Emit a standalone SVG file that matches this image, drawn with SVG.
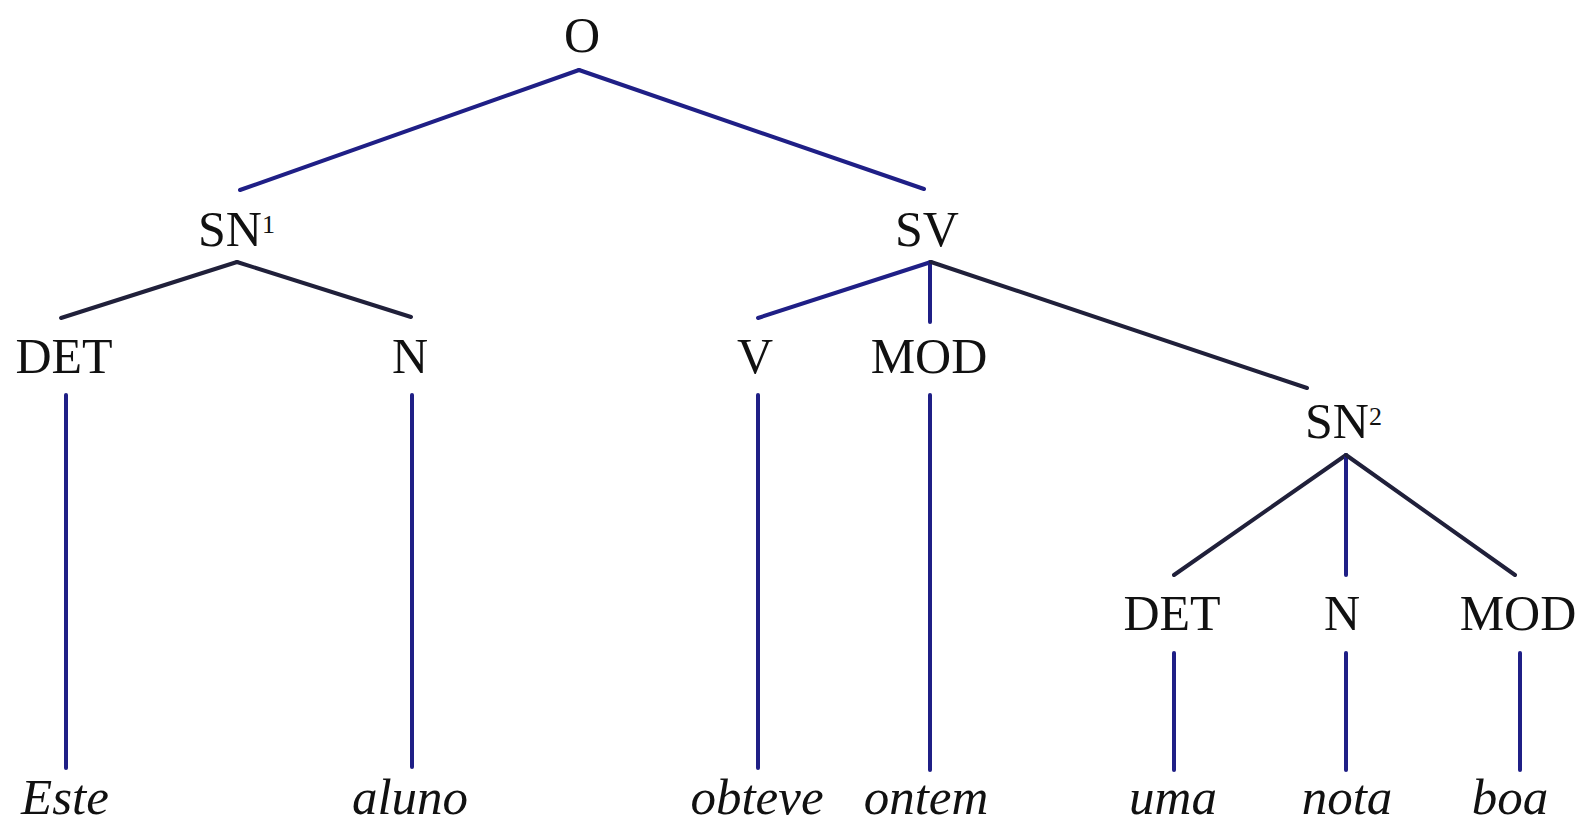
<svg xmlns="http://www.w3.org/2000/svg" width="1583" height="826" viewBox="0 0 1583 826">
<style>
.lbl{font-family:"Liberation Serif","Times New Roman",serif;font-size:50px;fill:#111;text-anchor:middle}
.sup{font-size:26px}
.word{font-family:"Liberation Serif","Times New Roman",serif;font-size:51px;font-style:italic;fill:#111;text-anchor:middle}
.e{stroke-width:4;stroke-linecap:round;fill:none}
.b{stroke:#1f1f86}
.d{stroke:#20203a}
</style>
<rect width="1583" height="826" fill="#fff"/>
<g id="connectors">
<line class="e b" x1="579" y1="70" x2="240" y2="190"/>
<line class="e b" x1="579" y1="70" x2="924" y2="189"/>
<line class="e d" x1="237" y1="262" x2="61" y2="318"/>
<line class="e d" x1="237" y1="262" x2="411" y2="317"/>
<line class="e b" x1="931" y1="262" x2="758" y2="318"/>
<line class="e b" x1="930" y1="262" x2="930" y2="322"/>
<line class="e d" x1="931" y1="262" x2="1307" y2="388"/>
<line class="e b" x1="66" y1="395" x2="66" y2="768"/>
<line class="e b" x1="412" y1="395" x2="412" y2="767"/>
<line class="e b" x1="758" y1="395" x2="758" y2="768"/>
<line class="e b" x1="930" y1="395" x2="930" y2="770"/>
<line class="e d" x1="1346" y1="455" x2="1174" y2="575"/>
<line class="e b" x1="1346" y1="455" x2="1346" y2="575"/>
<line class="e d" x1="1346" y1="455" x2="1515" y2="575"/>
<line class="e b" x1="1174" y1="653" x2="1174" y2="770"/>
<line class="e b" x1="1346" y1="653" x2="1346" y2="770"/>
<line class="e b" x1="1520" y1="653" x2="1520" y2="770"/>
</g>
<g id="n-O"><text class="lbl" x="582" y="52">O</text></g>
<g id="n-SN1"><text class="lbl" x="198" y="246" style="text-anchor:start">SN<tspan class="sup" dy="-13">1</tspan></text></g>
<g id="n-SV"><text class="lbl" x="927" y="246">SV</text></g>
<g id="n-DET1"><text class="lbl" x="64" y="373">DET</text></g>
<g id="n-N1"><text class="lbl" x="410" y="373">N</text></g>
<g id="n-V"><text class="lbl" x="755" y="373">V</text></g>
<g id="n-MOD1"><text class="lbl" x="929" y="373">MOD</text></g>
<g id="n-SN2"><text class="lbl" x="1305" y="438" style="text-anchor:start">SN<tspan class="sup" dy="-13">2</tspan></text></g>
<g id="n-DET2"><text class="lbl" x="1172" y="630">DET</text></g>
<g id="n-N2"><text class="lbl" x="1342" y="630">N</text></g>
<g id="n-MOD2"><text class="lbl" x="1518" y="630">MOD</text></g>
<g id="w-Este"><text class="word" x="65" y="814">Este</text></g>
<g id="w-aluno"><text class="word" x="410" y="814">aluno</text></g>
<g id="w-obteve"><text class="word" x="757" y="814">obteve</text></g>
<g id="w-ontem"><text class="word" x="926" y="814">ontem</text></g>
<g id="w-uma"><text class="word" x="1173" y="814">uma</text></g>
<g id="w-nota"><text class="word" x="1347" y="814">nota</text></g>
<g id="w-boa"><text class="word" x="1510" y="814">boa</text></g>
</svg>
